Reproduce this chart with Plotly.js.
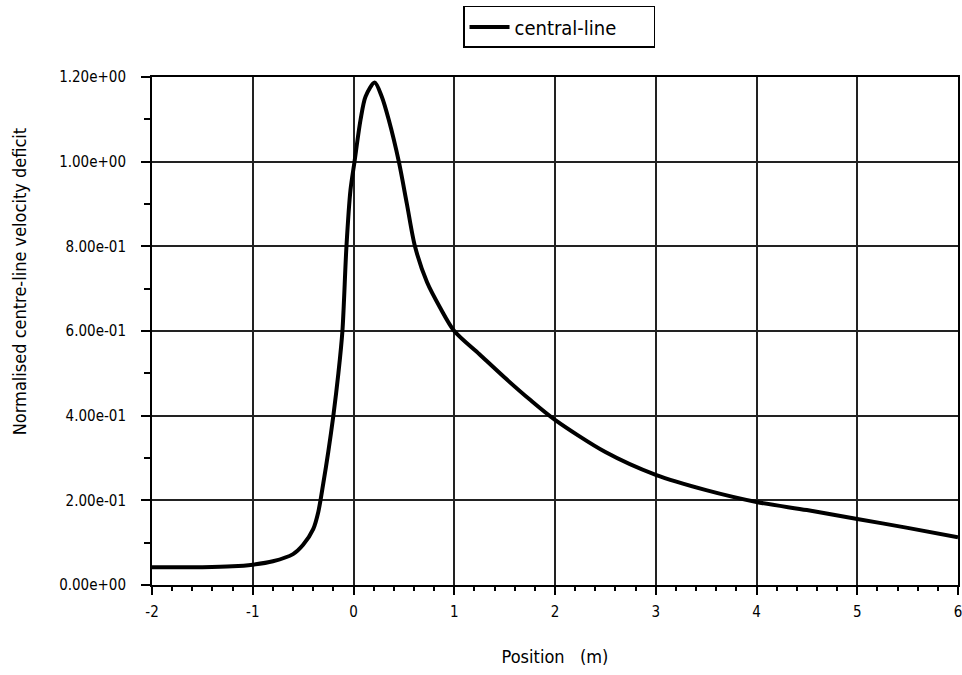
<!DOCTYPE html>
<html>
<head>
<meta charset="utf-8">
<script src="https://cdn.plot.ly/plotly-3.0.1.min.js"></script>
<style>html,body{margin:0;padding:0;background:#fff;}#chart{width:962px;height:675px;}</style>
</head>
<body>
<div id="chart"></div>
<script>
// Data
const positions = [-2, -1.5, -1.2, -1.0, -0.8, -0.6, -0.5, -0.4, -0.35, -0.3, -0.25, -0.2, -0.15, -0.11, -0.07, -0.03, 0.01, 0.07, 0.12, 0.21, 0.28, 0.35, 0.45, 0.53, 0.61, 0.73, 0.86, 1.0, 1.25, 1.5, 1.75, 2.0, 2.5, 3.0, 3.5, 4.0, 4.5, 5.0, 5.5, 6.0];
const deficit = [0.042, 0.042, 0.044, 0.048, 0.056, 0.073, 0.095, 0.132, 0.172, 0.24, 0.315, 0.40, 0.50, 0.60, 0.80, 0.933, 1.0, 1.099, 1.154, 1.187, 1.154, 1.099, 1.0, 0.9, 0.80, 0.715, 0.655, 0.60, 0.545, 0.49, 0.438, 0.39, 0.314, 0.26, 0.224, 0.196, 0.177, 0.156, 0.135, 0.113];
const seriesName = 'central-line';
const yTickVals = [0, 0.2, 0.4, 0.6, 0.8, 1.0, 1.2];
const yTickText = ['0.00e+00', '2.00e-01', '4.00e-01', '6.00e-01', '8.00e-01', '1.00e+00', '1.20e+00'];
const xTickVals = [-2, -1, 0, 1, 2, 3, 4, 5, 6];
const xTickText = ['-2', '-1', '0', '1', '2', '3', '4', '5', '6'];
const xTitle = 'Position&nbsp;&nbsp;&nbsp;(m)';
const yTitle = 'Normalised centre-line velocity deficit';

const narrow = '"DejaVu Sans Condensed", "Liberation Sans Narrow", "Liberation Sans", Arial, sans-serif';

const trace = {
  x: positions, y: deficit, type: 'scatter', mode: 'lines', name: seriesName,
  line: {color: '#000', width: 4, shape: 'spline', smoothing: 0.8}
};

const layout = {
  width: 962, height: 675,
  margin: {l: 152, r: 4, t: 77, b: 90},
  paper_bgcolor: '#fff', plot_bgcolor: '#fff',
  showlegend: true,
  legend: {
    orientation: 'h',
    x: 0.505, xanchor: 'center', y: 1.14, yanchor: 'top',
    bordercolor: '#000', borderwidth: 1.5, bgcolor: '#fff',
    font: {family: narrow, size: 20, color: '#000'},
    itemwidth: 40, entrywidth: 134
  },
  xaxis: {
    range: [-2, 6], tickvals: xTickVals, ticktext: xTickText,
    showgrid: true, gridcolor: '#222', gridwidth: 2,
    showline: true, linecolor: '#000', linewidth: 2, mirror: true,
    ticks: 'outside', ticklen: 8, tickwidth: 2, tickcolor: '#000',
    ticklabelstandoff: 4, ticklabeloverflow: 'allow',
    minor: {dtick: 0.2, ticks: 'outside', ticklen: 4, tickwidth: 2, tickcolor: '#000', showgrid: false},
    zeroline: false,
    tickfont: {family: narrow, size: 15, color: '#000'},
    title: {text: xTitle, font: {family: narrow, size: 18, color: '#000'}, standoff: 30}
  },
  yaxis: {
    range: [0, 1.2], tickvals: yTickVals, ticktext: yTickText,
    showgrid: true, gridcolor: '#222', gridwidth: 2,
    showline: true, linecolor: '#000', linewidth: 2, mirror: true,
    ticks: 'outside', ticklen: 9, tickwidth: 2, tickcolor: '#000',
    ticklabelstandoff: 12,
    minor: {dtick: 0.1, ticks: 'outside', ticklen: 6, tickwidth: 2, tickcolor: '#000', showgrid: false},
    zeroline: false,
    tickfont: {family: narrow, size: 15, color: '#000'}
  },
  annotations: [{
    text: yTitle, textangle: -90, showarrow: false,
    xref: 'paper', yref: 'paper', x: -0.165, y: 0.596, xanchor: 'center', yanchor: 'middle',
    font: {family: narrow, size: 18, color: '#000'}
  }]
};

Plotly.newPlot('chart', [trace], layout, {displayModeBar: false, staticPlot: true});
</script>
</body>
</html>
